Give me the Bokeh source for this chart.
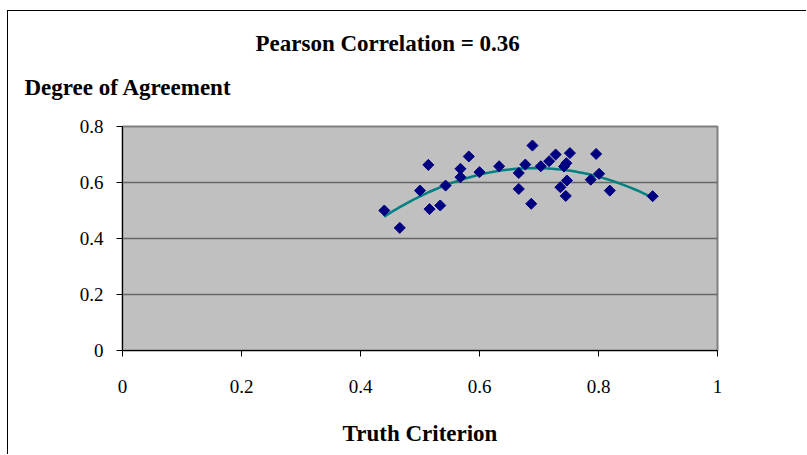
import numpy as np
from bokeh.plotting import figure
from bokeh.models import Range1d, FixedTicker, NumeralTickFormatter, Title, ColumnDataSource
from bokeh.embed import file_html
from bokeh.resources import INLINE

# ---- data ----
truth = [0.440, 0.466, 0.500, 0.514, 0.516, 0.534, 0.543, 0.568, 0.568, 0.582,
         0.600, 0.633, 0.666, 0.666, 0.677, 0.689, 0.687, 0.703, 0.717, 0.728,
         0.752, 0.746, 0.742, 0.747, 0.736, 0.745, 0.796, 0.801, 0.787, 0.819,
         0.891]
agreement = [0.500, 0.438, 0.571, 0.663, 0.505, 0.518, 0.589, 0.649, 0.619, 0.693,
             0.637, 0.658, 0.634, 0.577, 0.664, 0.732, 0.524, 0.658, 0.676, 0.700,
             0.705, 0.669, 0.657, 0.607, 0.583, 0.552, 0.702, 0.631, 0.610, 0.571,
             0.551]
x_ticks = [0, 0.2, 0.4, 0.6, 0.8, 1.0]
y_ticks = [0, 0.2, 0.4, 0.6, 0.8]
title_text = "Pearson Correlation = 0.36"
y_title = "Degree of Agreement"
x_title = "Truth Criterion"

# polynomial (order 2) trendline, as the spreadsheet did
coef = np.polyfit(truth, agreement, 2)
tx = np.linspace(min(truth), max(truth), 60)
ty = np.polyval(coef, tx)

FONT = "Liberation Serif"

p = figure(width=799, height=444, output_backend="svg", toolbar_location=None,
           x_range=Range1d(0, 1), y_range=Range1d(0, 0.8),
           min_border_left=114, min_border_right=90,
           min_border_top=115, min_border_bottom=105)
p.styles = {"border-top": "1px solid black", "border-left": "1px solid black",
            "margin-top": "10px", "margin-left": "7px"}
p.background_fill_color = "#C0C0C0"
p.border_fill_color = "white"
p.outline_line_color = "#808080"
p.outline_line_width = 2

p.xgrid.visible = False
p.ygrid.ticker = FixedTicker(ticks=y_ticks)
p.ygrid.grid_line_color = "#666666"
p.ygrid.grid_line_width = 1.5

for ax in (p.xaxis[0], p.yaxis[0]):
    ax.axis_line_color = "black"
    ax.axis_line_width = 1
    ax.major_tick_line_color = "black"
    ax.major_tick_in = 0
    ax.major_tick_out = 6
    ax.minor_tick_line_color = None
    ax.major_label_text_font = FONT
    ax.major_label_text_font_size = "19px"
    ax.major_label_text_color = "black"
    ax.formatter = NumeralTickFormatter(format="0.[0]")

p.xaxis.ticker = FixedTicker(ticks=x_ticks)
p.yaxis.ticker = FixedTicker(ticks=y_ticks)
p.xaxis.major_label_standoff = 23
p.yaxis.major_label_standoff = 13
p.xaxis.axis_label = x_title
p.xaxis.axis_label_text_font = FONT
p.xaxis.axis_label_text_font_style = "bold"
p.xaxis.axis_label_text_font_size = "23px"
p.xaxis.axis_label_standoff = 25
p.xaxis.axis_label_text_color = "black"

p.line(tx, ty, line_color="#008080", line_width=2.5)
src = ColumnDataSource(dict(x=truth, y=agreement))
p.scatter("x", "y", source=src, marker="square", angle=np.pi / 4, size=7.8,
          fill_color="#000080", line_color="#000080")

p.add_layout(Title(text=y_title, align="left", offset=-98, standoff=54,
                   text_font=FONT, text_font_style="bold", text_font_size="23px",
                   text_color="black"), "above")
p.add_layout(Title(text=title_text, align="left", offset=133, standoff=-20,
                   text_font=FONT, text_font_style="bold", text_font_size="23px",
                   text_color="black"), "above")

open("out.html", "w").write(file_html(p, INLINE))
